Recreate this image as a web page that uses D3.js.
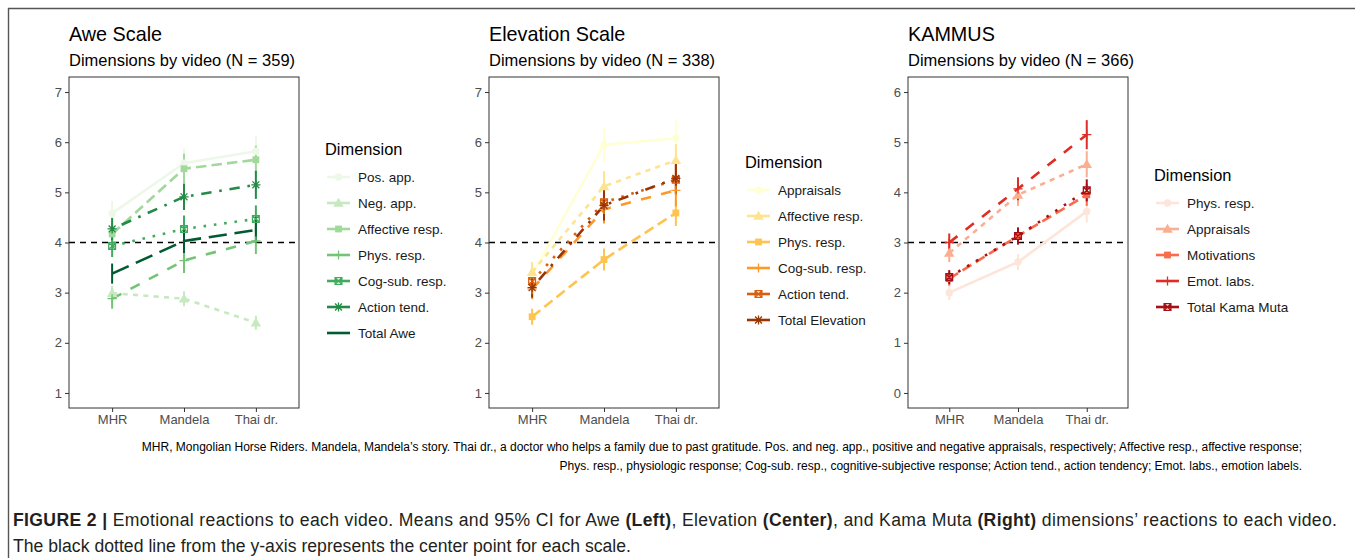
<!DOCTYPE html>
<html>
<head>
<meta charset="utf-8">
<script src="https://cdnjs.cloudflare.com/ajax/libs/d3/7.8.5/d3.min.js"></script>
<style>
  body { margin: 0; background: #fff; }
  svg text { font-family: "Liberation Sans", Arial, Helvetica, sans-serif; }
</style>
</head>
<body>
<svg id="fig" width="1355" height="558"></svg>
<script>
// data: means and half-width of the 95% CI, one row per dimension
var videos = ["MHR", "Mandela", "Thai dr."];

var aweDims  = ["Pos. app.", "Neg. app.", "Affective resp.", "Phys. resp.", "Cog-sub. resp.", "Action tend.", "Total Awe"];
var aweMeans = [[4.58, 5.58, 5.82], [2.99, 2.88, 2.40], [4.17, 5.47, 5.65], [2.88, 3.64, 4.03], [3.93, 4.27, 4.47], [4.27, 4.91, 5.15], [3.38, 4.03, 4.25]];
var aweCI    = [[0.25, 0.30, 0.30], [0.15, 0.15, 0.14], [0.25, 0.30, 0.28], [0.20, 0.25, 0.26], [0.22, 0.27, 0.27], [0.22, 0.26, 0.28], [0.20, 0.24, 0.26]];

var elevDims  = ["Appraisals", "Affective resp.", "Phys. resp.", "Cog-sub. resp.", "Action tend.", "Total Elevation"];
var elevMeans = [[3.36, 5.95, 6.08], [3.41, 5.12, 5.64], [2.52, 3.66, 4.59], [3.07, 4.66, 5.04], [3.23, 4.80, 5.25], [3.10, 4.74, 5.28]];
var elevCI    = [[0.22, 0.35, 0.36], [0.20, 0.30, 0.32], [0.16, 0.22, 0.26], [0.20, 0.28, 0.32], [0.20, 0.28, 0.30], [0.20, 0.30, 0.30]];

var kamaDims  = ["Phys. resp.", "Appraisals", "Motivations", "Emot. labs.", "Total Kama Muta"];
var kamaMeans = [[2.00, 2.61, 3.62], [2.79, 3.95, 4.56], [2.28, 3.13, 3.95], [3.00, 4.07, 5.15], [2.31, 3.13, 4.04]];
var kamaCI    = [[0.15, 0.16, 0.22], [0.18, 0.22, 0.26], [0.14, 0.17, 0.22], [0.18, 0.23, 0.29], [0.14, 0.17, 0.22]];

var aweColors  = ["#edf8e9", "#c7e9c0", "#a1d99b", "#74c476", "#41ab5d", "#238b45", "#005a32"];
var elevColors = ["#ffffd4", "#fee391", "#fec44f", "#fe9929", "#d95f0e", "#993404"];
var kamaColors = ["#fee5d9", "#fcae91", "#fb6a4a", "#de2d26", "#a50f15"];

// ggplot default linetype / shape order
var linetypes = ["solid", "22", "42", "44", "13", "1343", "73"];
var shapes    = ["circle", "triangle", "square", "plus", "squarex", "asterisk", null];

var svg = d3.select('#fig');
var plotTop = 77, plotBottom = 408;
var lw = 2.6;

function dashOf(lt) {
	if (lt === 'solid') return null;
	return lt.split('').map(function(c){ return parseInt(c, 16) * lw; }).join(',');
}

// draws one ggplot-ish point shape centred on cx, cy
function drawShape(sel, shape, color, cx, cy) {
	var s = 3.4;
	if (!shape) return;
	if (shape === 'circle') {
		sel.append('circle').attr('cx', cx).attr('cy', cy).attr('r', s + 0.3).attr('fill', color);
	} else if (shape === 'triangle') {
		sel.append('path').attr('fill', color)
			.attr('d', d3.symbol().type(d3.symbolTriangle).size(48)())
			.attr('transform', 'translate(' + cx + ',' + (cy + 0.8) + ')');
	} else if (shape === 'square') {
		sel.append('rect').attr('x', cx - s).attr('y', cy - s).attr('width', 2 * s).attr('height', 2 * s).attr('fill', color);
	} else {
		var p = d3.path(), r = s + 1.2;
		if (shape === 'plus' || shape === 'asterisk') {
			p.moveTo(cx - r, cy); p.lineTo(cx + r, cy);
			p.moveTo(cx, cy - r); p.lineTo(cx, cy + r);
		}
		if (shape === 'asterisk') {
			var q = r * 0.75;
			p.moveTo(cx - q, cy - q); p.lineTo(cx + q, cy + q);
			p.moveTo(cx - q, cy + q); p.lineTo(cx + q, cy - q);
		}
		if (shape === 'squarex') {
			p.rect(cx - s, cy - s, 2 * s, 2 * s);
			p.moveTo(cx - s, cy - s); p.lineTo(cx + s, cy + s);
			p.moveTo(cx - s, cy + s); p.lineTo(cx + s, cy - s);
		}
		sel.append('path').attr('d', p.toString())
			.style('fill', 'none').style('stroke', color).style('stroke-width', 1.3);
	}
}

function drawPanel(opt) {
	var g = svg.append('g');
	var right = opt.left + opt.width;

	var x = d3.scalePoint().domain(videos).range([opt.left, right]).padding(0.6);
	var y = d3.scaleLinear().domain(opt.yDomain).range([plotBottom, plotTop]);

	var series = opt.dims.map(function(name, i){
		return {
			name: name, color: opt.colors[i], dash: dashOf(linetypes[i]), shape: shapes[i],
			values: videos.map(function(v, j){ return {video: v, mean: opt.means[i][j], ci: opt.ci[i][j]}; })
		};
	});

	// titles
	g.append('text').attr('x', opt.left).attr('y', 41).text(opt.title)
		.style('font-size', '19.8px').style('fill', '#000');
	g.append('text').attr('x', opt.left).attr('y', 66).text(opt.subtitle)
		.style('font-size', '16.5px').style('fill', '#000');

	// axes
	var yAxis = g.append('g').attr('transform', 'translate(' + opt.left + ',0)')
		.call(d3.axisLeft(y).tickValues(d3.range(opt.yTicks[0], opt.yTicks[1] + 1)).tickSize(4).tickPadding(3).tickFormat(d3.format('d')));
	var xAxis = g.append('g').attr('transform', 'translate(0,' + plotBottom + ')')
		.call(d3.axisBottom(x).tickSize(4).tickPadding(3));
	[yAxis, xAxis].forEach(function(a){
		a.select('.domain').remove();
		a.selectAll('line').style('stroke', '#333').style('stroke-width', 1);
		a.selectAll('text').style('fill', '#4d4d4d').style('font-size', '13px').style('font-family', '"Liberation Sans", Arial, sans-serif');
	});

	// centre point of the scale
	g.append('line')
		.attr('x1', opt.left).attr('x2', right)
		.attr('y1', y(opt.center)).attr('y2', y(opt.center))
		.style('stroke', '#000').style('stroke-width', 1.4).style('stroke-dasharray', '6,5');

	var line = d3.line().x(function(d){ return x(d.video); }).y(function(d){ return y(d.mean); });

	g.selectAll('.dimLine').data(series).enter().append('path')
		.attr('class', 'dimLine')
		.attr('d', function(d){ return line(d.values); })
		.style('fill', 'none')
		.style('stroke', function(d){ return d.color; })
		.style('stroke-width', lw)
		.style('stroke-dasharray', function(d){ return d.dash; });

	series.forEach(function(s){
		g.selectAll(null).data(s.values).enter().append('line')
			.attr('x1', function(d){ return x(d.video); }).attr('x2', function(d){ return x(d.video); })
			.attr('y1', function(d){ return y(d.mean - d.ci); }).attr('y2', function(d){ return y(d.mean + d.ci); })
			.style('stroke', s.color).style('stroke-width', 2);
	});
	series.forEach(function(s){
		s.values.forEach(function(d){ drawShape(g, s.shape, s.color, x(d.video), y(d.mean)); });
	});

	// panel border
	g.append('rect').attr('x', opt.left).attr('y', plotTop)
		.attr('width', opt.width).attr('height', plotBottom - plotTop)
		.style('fill', 'none').style('stroke', '#333').style('stroke-width', 1);

	// legend, centred on the panel (keys look solid: the errorbar key sits over the dashed one)
	var lx = right + 26;
	var ty = 241 - (28 + (series.length - 1) * 26) / 2;
	var leg = g.append('g');
	leg.append('text').attr('x', lx).attr('y', ty + 5.5).text('Dimension')
		.style('font-size', '16.4px').style('fill', '#000');
	var items = leg.selectAll('.item').data(series).enter().append('g')
		.attr('class', 'item')
		.attr('transform', function(d, i){ return 'translate(' + lx + ',' + (ty + 28 + i * 26) + ')'; });
	items.append('line')
		.attr('x1', 2).attr('x2', 25).attr('y1', 0).attr('y2', 0)
		.style('stroke', function(d){ return d.color; })
		.style('stroke-width', lw);
	items.each(function(d){ drawShape(d3.select(this), d.shape, d.color, 13.5, 0); });
	items.append('text').attr('x', 33).attr('y', 4.5).text(function(d){ return d.name; })
		.style('font-size', '13.5px').style('fill', '#1a1a1a');
}

// outer frame
svg.append('line').attr('x1', 8).attr('x2', 1355).attr('y1', 8.5).attr('y2', 8.5).style('stroke', '#555').style('stroke-width', 1.4);
svg.append('line').attr('x1', 8.5).attr('x2', 8.5).attr('y1', 8).attr('y2', 558).style('stroke', '#555').style('stroke-width', 1.4);

drawPanel({left: 69, width: 230, title: 'Awe Scale', subtitle: 'Dimensions by video (N = 359)',
	dims: aweDims, means: aweMeans, ci: aweCI, colors: aweColors, yDomain: [0.7, 7.3], yTicks: [1, 7], center: 4});
drawPanel({left: 489, width: 230, title: 'Elevation Scale', subtitle: 'Dimensions by video (N = 338)',
	dims: elevDims, means: elevMeans, ci: elevCI, colors: elevColors, yDomain: [0.7, 7.3], yTicks: [1, 7], center: 4});
drawPanel({left: 908, width: 220, title: 'KAMMUS', subtitle: 'Dimensions by video (N = 366)',
	dims: kamaDims, means: kamaMeans, ci: kamaCI, colors: kamaColors, yDomain: [-0.3, 6.3], yTicks: [0, 6], center: 3});

// notes under the panels
var notes = svg.append('g').style('font-size', '12px').style('fill', '#000').attr('text-anchor', 'end');
notes.append('text').attr('x', 1302).attr('y', 451)
	.text('MHR, Mongolian Horse Riders. Mandela, Mandela\u2019s story. Thai dr., a doctor who helps a family due to past gratitude. Pos. and neg. app., positive and negative appraisals, respectively; Affective resp., affective response;');
notes.append('text').attr('x', 1302).attr('y', 470)
	.text('Phys. resp., physiologic response; Cog-sub. resp., cognitive-subjective response; Action tend., action tendency; Emot. labs., emotion labels.');

// figure caption
var cap = svg.append('g').style('font-size', '17.6px').style('fill', '#231f20');
var c1 = cap.append('text').attr('x', 13).attr('y', 526)
	.attr('textLength', 1324).attr('lengthAdjust', 'spacing');
c1.append('tspan').style('font-weight', 'bold').text('FIGURE 2 |');
c1.append('tspan').text(' Emotional reactions to each video. Means and 95% CI for Awe ');
c1.append('tspan').style('font-weight', 'bold').text('(Left)');
c1.append('tspan').text(', Elevation ');
c1.append('tspan').style('font-weight', 'bold').text('(Center)');
c1.append('tspan').text(', and Kama Muta ');
c1.append('tspan').style('font-weight', 'bold').text('(Right)');
c1.append('tspan').text(' dimensions\u2019 reactions to each video.');
cap.append('text').attr('x', 13).attr('y', 552)
	.attr('textLength', 618).attr('lengthAdjust', 'spacing')
	.text('The black dotted line from the y-axis represents the center point for each scale.');
</script>
</body>
</html>
